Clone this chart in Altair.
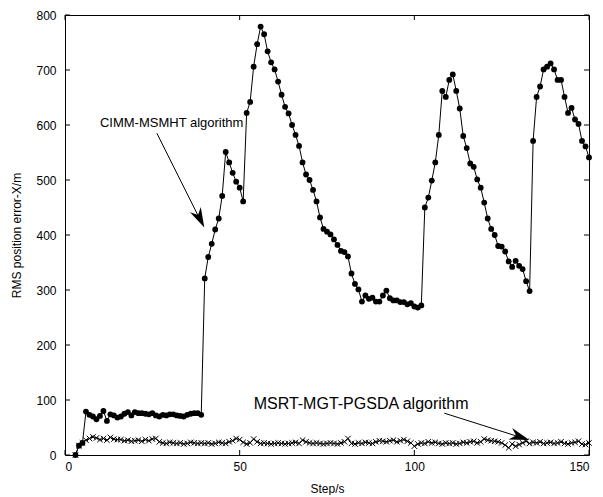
import altair as alt
import pandas as pd

steps = list(range(3, 151))

cimm = [0, 17, 22,
        79, 73, 70, 65, 71, 80, 62, 74, 72, 68, 70, 75, 78, 72, 78, 76, 76, 75, 74, 76, 72, 70, 73, 72, 74, 74, 72, 71, 70, 73, 75, 76, 76, 73,
        321, 360, 384, 410, 430, 471, 551, 532, 513, 497, 486, 461, 622, 642, 706, 747,
        779, 765, 734, 714, 701, 679, 655, 633, 621, 600, 582, 562, 532, 510, 500, 482, 461,
        432, 411, 406, 401, 392, 382, 371, 369, 361, 330, 311, 301, 279, 290, 284, 286, 279, 279, 290, 299,
        285, 281, 281, 278, 278, 274, 276, 270, 268, 272,
        450, 468, 499, 532, 582, 662, 651, 682, 692, 662, 630, 580, 558, 530, 524, 501, 486, 459, 430, 411,
        400, 380, 379, 370, 352, 342, 353, 344, 338, 316, 298,
        571, 651, 670, 701, 706, 712, 701, 682, 682, 651, 622, 631, 610, 602, 571, 561, 541]

msrt = [0, 17, 22,
        27, 30, 33, 31, 28, 30, 27, 32, 29, 28,
        28, 26, 27, 25, 26, 27, 25, 28, 26, 29, 30,
        24, 22, 21, 23, 22, 21, 22, 20, 21, 23, 22, 21, 22, 21,
        22, 20, 21, 23, 22, 21, 24, 26, 30, 28,
        23, 20, 22, 29, 24, 21, 22, 21, 20, 21,
        22, 21, 20, 21, 22, 23, 21, 27, 24, 22,
        21, 22, 21, 20, 21, 22, 21, 20, 22, 24,
        30, 21, 20, 22, 21, 23, 22, 21, 24, 26,
        25, 24, 26, 27, 24, 26, 28, 25, 22, 16,
        20, 22, 21, 24, 22, 23, 21, 20, 22, 21,
        22, 20, 21, 23, 22, 24, 25, 22, 24, 29,
        27, 26, 25, 24, 22, 18, 13, 20, 16, 19,
        22, 25, 21, 23, 22, 24, 21, 22, 23, 21,
        22, 24, 21, 20, 22, 23, 25, 20, 19, 22]

x_ticks = [0, 50, 100, 150]
y_ticks = [0, 100, 200, 300, 400, 500, 600, 700, 800]

labels = ["CIMM-MSMHT algorithm", "MSRT-MGT-PGSDA algorithm"]
label_step = [10, 54]
label_value = [604, 93]
label_size = [13, 16]

arrow_id = ["a1", "a1", "a2", "a2"]
arrow_step = [26.3, 39.3, 108.6, 131.5]
arrow_value = [585, 420, 76, 30]
head_step = [38.6, 130.2]
head_value = [430, 33]
head_angle = [153.6, 108.2]

FONT = "Liberation Sans"
W, H = 524, 440

df_c = pd.DataFrame({"step": steps, "value": cimm})
df_m = pd.DataFrame({"step": steps, "value": msrt})

xs = alt.Scale(domain=[0, 150], nice=False)
ys = alt.Scale(domain=[0, 800], nice=False)

x_axis = alt.Axis(values=x_ticks, title="Step/s", grid=False, ticks=False, domain=False,
                  labelFont=FONT, labelFontSize=12, labelColor="black", labelPadding=6,
                  titleFont=FONT, titleFontSize=12, titleFontWeight="normal", titleColor="black",
                  titleY=33, titleBaseline="middle")
y_axis = alt.Axis(values=y_ticks, title="RMS position error-X/m", grid=False, ticks=False, domain=False,
                  labelFont=FONT, labelFontSize=12, labelColor="black", labelPadding=9,
                  titleFont=FONT, titleFontSize=12, titleFontWeight="normal", titleColor="black",
                  titleX=-49, titleY=H / 2, titleBaseline="middle", titleAngle=-90)

X = alt.X("step:Q", scale=xs, axis=x_axis)
Y = alt.Y("value:Q", scale=ys, axis=y_axis)

line_c = alt.Chart(df_c).mark_line(color="black", strokeWidth=1).encode(x=X, y=Y)
pts_c = alt.Chart(df_c).mark_point(shape="circle", filled=True, color="black", size=34, opacity=1).encode(x=X, y=Y)
line_m = alt.Chart(df_m).mark_line(color="black", strokeWidth=1).encode(x=X, y=Y)
pts_m = alt.Chart(df_m).mark_point(shape="M-1,-1L1,1M1,-1L-1,1", filled=False, color="black",
                                   size=30, strokeWidth=1, opacity=1).encode(x=X, y=Y)

xt = pd.DataFrame({"step": x_ticks})
yt = pd.DataFrame({"value": y_ticks})
tick_b = alt.Chart(xt).mark_rule(color="black", strokeWidth=1).encode(x=X, y=alt.value(H), y2=alt.value(H - 5))
tick_t = alt.Chart(xt).mark_rule(color="black", strokeWidth=1).encode(x=X, y=alt.value(0), y2=alt.value(5))
tick_l = alt.Chart(yt).mark_rule(color="black", strokeWidth=1).encode(y=Y, x=alt.value(0), x2=alt.value(5))
tick_r = alt.Chart(yt).mark_rule(color="black", strokeWidth=1).encode(y=Y, x=alt.value(W), x2=alt.value(W - 5))

df_lab = pd.DataFrame({"step": label_step, "value": label_value, "text": labels, "size": label_size})
text = alt.Chart(df_lab).mark_text(align="left", baseline="middle", font=FONT, color="black").encode(
    x=X, y=Y, text="text:N", size=alt.Size("size:Q", scale=None, legend=None))

df_arr = pd.DataFrame({"id": arrow_id, "step": arrow_step, "value": arrow_value})
shafts = alt.Chart(df_arr).mark_line(color="black", strokeWidth=1).encode(x=X, y=Y, detail="id:N")

df_head = pd.DataFrame({"step": head_step, "value": head_value, "angle": head_angle})
heads = alt.Chart(df_head).mark_point(shape="M0,-1L0.6,1L0,0.4L-0.6,1Z", filled=True, color="black",
                                      size=400, opacity=1).encode(
    x=X, y=Y, angle=alt.Angle("angle:Q", scale=None))

chart = alt.layer(line_c, pts_c, line_m, pts_m, tick_b, tick_t, tick_l, tick_r, text, shafts, heads).properties(
    width=W, height=H,
    autosize=alt.AutoSizeParams(type="none"),
    padding={"left": 57, "top": 7, "right": 6, "bottom": 40},
    background="white",
).configure_view(stroke="black", strokeWidth=1)

chart.save("out.html", embed_options={"renderer": "svg", "actions": False})
